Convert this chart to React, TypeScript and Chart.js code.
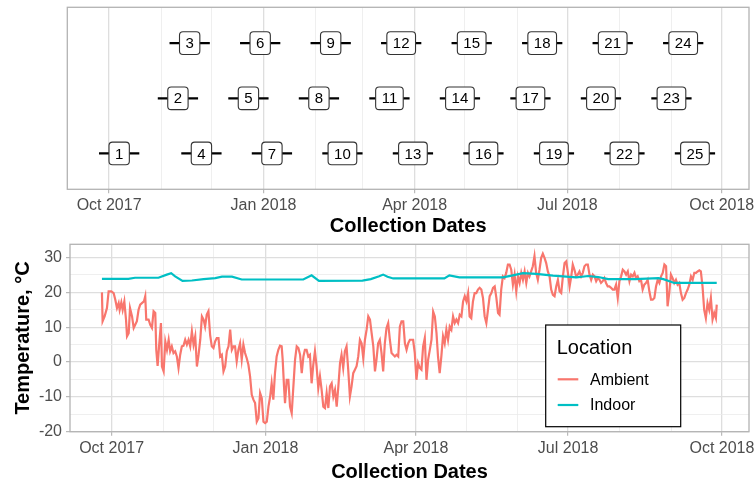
import React, { useEffect, useRef } from 'react';
import { Chart, registerables } from 'chart.js';

Chart.register(...registerables);

const FONT = '"Liberation Sans", Arial, Helvetica, sans-serif';
Chart.defaults.font.family = FONT;

// ---------- data ----------
const ORIGIN = Date.UTC(2017, 9, 1); // day 0 = 2017-10-01
const dayOf = (s: string) => {
  const [y, m, d] = s.split('-').map(Number);
  return (Date.UTC(y, m - 1, d) - ORIGIN) / 86400000;
};

const majorTickDates = ['2017-10-01', '2018-01-01', '2018-04-01', '2018-07-01', '2018-10-01'];
const majorTickLabels = ['Oct 2017', 'Jan 2018', 'Apr 2018', 'Jul 2018', 'Oct 2018'];
const minorTickDates = ['2017-11-01', '2017-12-01', '2018-02-01', '2018-03-01', '2018-05-01', '2018-06-01', '2018-08-01', '2018-09-01'];

const collectionLabels = ['1', '2', '3', '4', '5', '6', '7', '8', '9', '10', '11', '12', '13', '14', '15', '16', '17', '18', '19', '20', '21', '22', '23', '24', '25'];
const collectionDates = [
  '2017-10-07', '2017-11-11', '2017-11-18', '2017-11-25', '2017-12-23', '2017-12-30', '2018-01-06',
  '2018-02-03', '2018-02-10', '2018-02-17', '2018-03-17', '2018-03-24', '2018-03-31', '2018-04-28',
  '2018-05-05', '2018-05-12', '2018-06-09', '2018-06-16', '2018-06-23', '2018-07-21', '2018-07-28',
  '2018-08-04', '2018-09-01', '2018-09-08', '2018-09-15',
];
const collectionRows = [1, 2, 3, 1, 2, 3, 1, 2, 3, 1, 2, 3, 1, 2, 3, 1, 2, 3, 1, 2, 3, 1, 2, 3, 1];
const collectionHalfSpanDays = [12, 12, 12, 12, 12, 12, 12, 12, 12, 12, 12, 12, 12, 12, 12, 12, 12, 12, 12, 12, 12, 12, 12, 12, 12];

// days since 2017-10-01
const ambientDays = [
  -5.8, -5.4, -4.2, -2.8, -1.8, -0.2, 1.2, 2.2, 3.2, 4.2,
  4.8, 5.8, 6.6, 7.6, 8.6, 9.2, 10.2, 11.0, 12.2, 13.2,
  14.1, 15.1, 16.1, 17.1, 18.1, 19.3, 20.1, 20.7, 22.1, 23.1,
  24.1, 25.1, 26.1, 26.7, 27.5, 28.5, 29.5, 30.1, 31.1, 32.1,
  33.1, 34.1, 35, 36, 37, 38, 39, 40, 41, 42,
  43, 44, 45, 46, 47, 48, 49, 50, 51, 52,
  53, 54, 55, 55.9, 56.9, 57.9, 58.9, 59.9, 60.9, 61.9,
  62.9, 63.9, 64.9, 65.9, 66.9, 67.9, 68.9, 69.9, 70.9, 71.9,
  72.9, 73.8, 74.8, 75.8, 76.8, 77.8, 78.8, 79.8, 80.8, 81.8,
  82.8, 83.8, 84.8, 85.8, 86.8, 87.8, 88.8, 89.8, 90.8, 91.8,
  92.8, 93.8, 94.8, 95.7, 96.7, 97.7, 98.7, 99.7, 100.7, 101.7,
  102.3, 103.1, 103.7, 104.7, 105.7, 106.7, 107.7, 108.7, 109.7, 110.7,
  111.7, 112.7, 113.7, 114.7, 115.6, 116.6, 117.6, 118.6, 119.6, 120.6,
  121.6, 122.6, 123.6, 124.6, 125.6, 126.6, 127.6, 128.6, 129.6, 130.6,
  131.6, 132.6, 133.6, 134.6, 135.6, 136.6, 137.5, 138.5, 139.5, 140.5,
  141.5, 142.5, 143.5, 144.5, 145.5, 146.5, 147.5, 148.5, 149.5, 150.5,
  151.5, 152.5, 153.5, 154.5, 155.5, 156.5, 157.5, 158.4, 159.4, 160.4,
  161.4, 162.4, 163.4, 164.4, 165.4, 166.4, 167.4, 168.4, 169.4, 170.4,
  171.4, 172.4, 173.4, 174.4, 175.4, 176.4, 177.4, 178.4, 179.3, 180.3,
  181.3, 182.3, 183.3, 184.3, 185.3, 186.3, 187.3, 188.3, 189.3, 190.3,
  191.3, 192.3, 193.3, 194.3, 195.2, 196.2, 197.2, 198.2, 199.2, 200.2,
  201.2, 202.2, 203.2, 204.2, 205.2, 206.2, 207.2, 208.2, 209.2, 210.2,
  211.2, 212.2, 213.2, 214.1, 215.1, 216.1, 217.1, 218.1, 219.1, 220.1,
  221.1, 222.1, 223.1, 224.1, 225.1, 226.1, 227.1, 228.1, 229.1, 230.1,
  231.1, 232, 233, 234, 235, 236, 237, 238, 239, 240,
  241, 242, 243, 244, 245, 246, 247, 248, 249, 249.9,
  250.9, 251.9, 252.9, 253.9, 254.9, 255.9, 256.9, 257.9, 258.9, 259.9,
  260.9, 261.9, 262.9, 263.9, 264.9, 265.9, 266.9, 267.9, 268.9, 269.9,
  270.9, 271.9, 272.9, 273.9, 274.9, 275.8, 276.8, 277.8, 278.8, 279.8,
  280.8, 281.8, 282.8, 283.8, 284.8, 285.8, 286.8, 287.8, 288.8, 289.8,
  290.8, 291.8, 292.7, 293.7, 294.7, 295.7, 296.7, 297.7, 298.7, 299.7,
  300.7, 301.7, 302.7, 303.7, 304.7, 305.7, 306.7, 307.7, 308.7, 309.7,
  310.7, 311.7, 312.7, 313.6, 314.6, 315.6, 316.6, 317.6, 318.6, 319.6,
  320.6, 321.6, 322.6, 323.6, 324.6, 325.6, 326.6, 327.6, 328.6, 329.6,
  330.6, 331.6, 332.5, 333.5, 334.5, 335.5, 336.5, 337.5, 338.5, 339.5,
  340.5, 341.5, 342.5, 343.5, 344.5, 345.5, 346.5, 347.5, 348.5, 349.5,
  350.5, 351.5, 352.4, 353.4, 354.4, 355.4, 356.4, 357.4, 358.4, 359.4,
  360.4, 361.4, 361.9,
];
const ambientTemps = [
  20.0, 11.7, 13.1, 15.5, 20.3, 20.3, 19.8, 17.9, 15.5, 16.9,
  15.0, 17.1, 15.0, 17.4, 12.2, 7.4, 8.3, 15.5, 13.1, 9.8,
  10.7, 11.7, 15.0, 16.5, 16.9, 17.4, 18.9, 12.2, 12.2, 10.7,
  9.8, 14.6, 14.1, 3.5, -1.1, 5.4, 11.2, -1.3, -2.7, 5.9,
  3.5, 6.4, 3.1, 4.5, 2.6, 3.1, 1.6, -1.7, 2.1, 4.5,
  4.7, 6.4, 5.0, 6.4, 4.5, 8.8, 5.0, 7.4, -1.3, 2.1,
  6.4, 13.1, 12.2, 10.2, 13.6, 14.6, 7.8, 4.5, 4.0, 5.9,
  6.9, 6.9, 1.6, 2.1, -2.7, -1.3, 3.1, 4.5, 9.3, 3.5,
  4.5, 4.5, 0.2, 3.5, 5.4, 0.7, 5.0, 2.6, 1.1, -0.8,
  -4.1, -9.4, -10.8, -11.8, -17.1, -16.1, -8.9, -10.4, -17.1, -17.5,
  -17.1, -12.8, -9.9, -6.1, -10.8, -3.2, 1.6, 3.5, 4.7, 4.5,
  0.7, -7.0, -11.8, -5.1, -5.1, -12.8, -14.7, -7.0, 0.7, 4.5,
  4.0, 2.1, -3.2, 1.6, 3.5, 3.5, 1.6, 2.1, -6.1, -0.8,
  3.1, -1.3, -7.5, -4.1, -8.0, -12.8, -13.2, -8.9, -13.2, -7.0,
  -6.1, -9.9, -8.0, -12.8, -7.0, -0.3, 2.1, -1.7, 3.1, 4.5,
  -2.2, -9.9, -7.0, -3.2, -2.2, -1.2, 1.6, 6.4, 5.4, 1.1,
  6.4, 9.3, 13.1, 12.2, 8.3, 4.5, -2.7, 0.7, 5.4, 6.4,
  2.6, -2.7, 5.4, 9.8, 11.2, 6.4, 2.6, 2.1, 1.6, 2.1,
  1.6, 10.2, 11.7, 11.7, 5.4, 3.5, 5.4, 6.4, 6.4, 6.4,
  2.6, -5.1, -0.3, -1.7, -2.2, 4.5, 6.9, -5.1, 0.7, 3.5,
  6.4, 14.5, 13.1, 8.3, 1.6, -3.2, 1.6, 7.4, 5.4, 9.3,
  6.4, 10.2, 9.3, 13.1, 11.2, 12.2, 11.2, 13.6, 13.1, 17.4,
  18.9, 17.4, 19.8, 13.1, 12.6, 17.4, 19.8, 19.8, 20.8, 21.3,
  20.8, 18.4, 13.1, 11.2, 15.0, 18.9, 19.8, 21.3, 21.7, 18.4,
  14.1, 13.6, 20.8, 24.6, 24.1, 25.6, 28.0, 28.0, 26.5, 22.2,
  25.1, 20.3, 24.6, 22.7, 25.6, 23.6, 26.0, 22.7, 25.6, 24.6,
  26.0, 27.5, 30.4, 25.6, 23.6, 26.5, 29.9, 31.1, 29.9, 28.4,
  26.0, 24.6, 20.8, 19.3, 18.9, 21.7, 23.6, 20.3, 19.8, 24.6,
  28.4, 28.9, 25.6, 21.7, 24.6, 28.0, 26.5, 24.6, 25.1, 26.0,
  24.6, 25.6, 27.5, 28.0, 28.0, 25.1, 23.6, 25.1, 24.6, 23.2,
  24.1, 23.6, 22.7, 23.2, 24.1, 22.7, 21.7, 21.7, 21.3, 20.8,
  20.8, 22.2, 18.4, 23.2, 24.6, 26.5, 26.0, 25.1, 26.0, 23.2,
  25.1, 24.6, 25.6, 24.1, 24.6, 23.2, 23.6, 20.8, 22.2, 22.7,
  23.6, 20.3, 17.9, 17.9, 18.4, 21.7, 23.6, 22.7, 24.6, 25.6,
  28.0, 27.5, 16.0, 19.8, 25.1, 24.1, 22.7, 23.6, 22.2, 22.7,
  19.8, 17.9, 18.4, 19.8, 20.8, 22.2, 24.6, 23.6, 25.6, 25.6,
  26.0, 26.3, 26.0, 21.7, 15.0, 12.6, 16.9, 15.0, 18.4, 12.2,
  14.1, 12.6, 16.5,
];

const indoorDays = [
  -5.8, 10, 14, 28, 33, 35.6, 38, 42.4, 48, 55,
  62, 66, 72, 77.8, 114.6, 119.6, 124, 150, 155, 160,
  162.4, 165, 168.4, 199, 202, 208, 234, 240, 246, 254,
  264, 278, 285, 291, 297, 313, 327, 330, 336.5, 361.9,
];
const indoorTemps = [
  23.9, 23.9, 24.2, 24.2, 25.1, 25.5, 24.6, 23.3, 23.4, 23.8,
  24.1, 24.5, 24.5, 23.7, 23.7, 24.9, 23.3, 23.4, 23.8, 24.6,
  25.1, 24.5, 24.0, 24.0, 24.9, 24.3, 24.3, 24.9, 25.5, 25.3,
  24.8, 24.3, 24.7, 24.4, 23.8, 23.8, 24.1, 23.8, 22.7, 22.7,
];

const seriesNames = ['Ambient', 'Indoor'];
const seriesColors = ['#F8766D', '#00BFC4'];

const yTickValues = [-20, -15, -10, -5, 0, 5, 10, 15, 20, 25, 30];
const yLabelledValues = [-20, -10, 0, 10, 20, 30];

// ---------- layout / helpers ----------
const X_MIN = -24.9;
const X_MAX = 381.2;
const majorDays = majorTickDates.map(dayOf);
const allTickDays = [...majorTickDates, ...minorTickDates].map(dayOf).sort((a, b) => a - b);
const isMajor = (v: number) => majorDays.some((m) => Math.abs(m - v) < 0.01);

const GRID_MAJOR = '#DEDEDE';
const GRID_MINOR = '#EBEBEB';
const BORDER = '#B3B3B3';

function xScaleOptions(height: number) {
  return {
    type: 'linear',
    min: X_MIN,
    max: X_MAX,
    afterBuildTicks: (s: any) => {
      s.ticks = allTickDays.map((v) => ({ value: v }));
    },
    afterFit: (s: any) => {
      s.height = height;
      s.paddingLeft = 0;
      s.paddingRight = 0;
    },
    ticks: {
      autoSkip: false,
      maxRotation: 0,
      minRotation: 0,
      padding: 3,
      color: '#4D4D4D',
      font: { family: FONT, size: 16 },
      callback: (v: number) => {
        const i = majorDays.findIndex((m) => Math.abs(m - v) < 0.01);
        return i >= 0 ? majorTickLabels[i] : '';
      },
    },
    grid: {
      color: (c: any) => (c.tick && isMajor(c.tick.value) ? GRID_MAJOR : GRID_MINOR),
      lineWidth: (c: any) => (c.tick && isMajor(c.tick.value) ? 1.3 : 0.8),
      tickColor: (c: any) => (c.tick && isMajor(c.tick.value) ? BORDER : 'rgba(0,0,0,0)'),
      tickWidth: 1.1,
      tickLength: 4,
      drawTicks: true,
    },
    border: { display: false },
    title: {
      display: true,
      text: 'Collection Dates',
      color: '#000000',
      font: { family: FONT, size: 20, weight: 'bold', lineHeight: 1 },
      padding: 0,
    },
  };
}

const panelBorderPlugin = {
  id: 'panelBorder',
  afterDatasetsDraw(chart: any) {
    const { ctx, chartArea: a } = chart;
    ctx.save();
    ctx.strokeStyle = BORDER;
    ctx.lineWidth = 1.3;
    ctx.strokeRect(a.left, a.top, a.right - a.left, a.bottom - a.top);
    ctx.restore();
  },
};

function roundRectPath(ctx: CanvasRenderingContext2D, x: number, y: number, w: number, h: number, r: number) {
  ctx.beginPath();
  ctx.moveTo(x + r, y);
  ctx.lineTo(x + w - r, y);
  ctx.arcTo(x + w, y, x + w, y + r, r);
  ctx.lineTo(x + w, y + h - r);
  ctx.arcTo(x + w, y + h, x + w - r, y + h, r);
  ctx.lineTo(x + r, y + h);
  ctx.arcTo(x, y + h, x, y + h - r, r);
  ctx.lineTo(x, y + r);
  ctx.arcTo(x, y, x + r, y, r);
  ctx.closePath();
}

const collectionLabelPlugin = {
  id: 'collectionLabels',
  afterDatasetsDraw(chart: any) {
    const { ctx } = chart;
    const xs = chart.scales.x;
    const ys = chart.scales.y;
    ctx.save();
    ctx.font = `15px ${FONT}`;
    ctx.textAlign = 'center';
    ctx.textBaseline = 'middle';
    collectionLabels.forEach((lab, i) => {
      const cx = xs.getPixelForValue(dayOf(collectionDates[i]));
      const cy = ys.getPixelForValue(collectionRows[i]);
      const w = ctx.measureText(lab).width + 12;
      const h = 22.7;
      roundRectPath(ctx, cx - w / 2, cy - h / 2, w, h, 3.5);
      ctx.fillStyle = '#FFFFFF';
      ctx.fill();
      ctx.strokeStyle = '#333333';
      ctx.lineWidth = 1.1;
      ctx.stroke();
      ctx.fillStyle = '#000000';
      ctx.fillText(lab, cx, cy + 1);
    });
    ctx.restore();
  },
};

const legendPlugin = {
  id: 'insideLegend',
  afterDatasetsDraw(chart: any) {
    const { ctx, chartArea: a } = chart;
    const w = 135;
    const h = 101.7;
    const left = a.right - 68.3 - w;
    const top = a.bottom - 5 - h;
    ctx.save();
    ctx.fillStyle = '#FFFFFF';
    ctx.fillRect(left, top, w, h);
    ctx.strokeStyle = '#000000';
    ctx.lineWidth = 1.2;
    ctx.strokeRect(left, top, w, h);
    ctx.fillStyle = '#000000';
    ctx.textAlign = 'left';
    ctx.textBaseline = 'middle';
    ctx.font = `20px ${FONT}`;
    ctx.fillText('Location', left + 11, top + 23.3);
    ctx.font = `16px ${FONT}`;
    const rowsY = [54.3, 80];
    seriesNames.forEach((name, i) => {
      const y = top + rowsY[i];
      ctx.strokeStyle = seriesColors[i];
      ctx.lineWidth = 2.2;
      ctx.beginPath();
      ctx.moveTo(left + 12, y);
      ctx.lineTo(left + 32.6, y);
      ctx.stroke();
      ctx.fillStyle = '#000000';
      ctx.fillText(name, left + 44.3, y + 1);
    });
    ctx.restore();
  },
};

function buildTopConfig(): any {
  const whiskers: any[] = [];
  collectionDates.forEach((s, i) => {
    const d = dayOf(s);
    whiskers.push({ x: d - collectionHalfSpanDays[i], y: collectionRows[i] });
    whiskers.push({ x: d + collectionHalfSpanDays[i], y: collectionRows[i] });
    whiskers.push({ x: d, y: null });
  });
  return {
    type: 'line',
    data: {
      datasets: [
        {
          data: whiskers,
          borderColor: '#000000',
          borderWidth: 2.2,
          pointRadius: 0,
          spanGaps: false,
          tension: 0,
        },
      ],
    },
    options: {
      animation: false,
      responsive: false,
      maintainAspectRatio: false,
      events: [],
      layout: { autoPadding: false, padding: { top: 7.3, right: 6, bottom: 0, left: 67.3 } },
      plugins: { legend: { display: false }, tooltip: { enabled: false } },
      scales: {
        x: xScaleOptions(236 - 189.3),
        y: { type: 'linear', min: 0.35, max: 3.65, display: false },
      },
    },
    plugins: [panelBorderPlugin, collectionLabelPlugin],
  };
}

function buildBottomConfig(): any {
  const yIsMajor = (v: number) => yLabelledValues.includes(v);
  return {
    type: 'line',
    data: {
      datasets: [
        {
          label: seriesNames[1],
          data: indoorDays.map((d, i) => ({ x: d, y: indoorTemps[i] })),
          borderColor: seriesColors[1],
          borderWidth: 2.2,
          pointRadius: 0,
          tension: 0,
        },
        {
          label: seriesNames[0],
          data: ambientDays.map((d, i) => ({ x: d, y: ambientTemps[i] })),
          borderColor: seriesColors[0],
          borderWidth: 2.2,
          pointRadius: 0,
          tension: 0,
        },
      ],
    },
    options: {
      animation: false,
      responsive: false,
      maintainAspectRatio: false,
      events: [],
      layout: { autoPadding: false, padding: { top: 8.3, right: 6, bottom: 0, left: 0 } },
      plugins: { legend: { display: false }, tooltip: { enabled: false } },
      scales: {
        x: xScaleOptions(246 - 195.7),
        y: {
          type: 'linear',
          min: -20,
          max: 33.8,
          afterBuildTicks: (s: any) => {
            s.ticks = yTickValues.map((v) => ({ value: v }));
          },
          afterFit: (s: any) => {
            s.width = 70;
            s.paddingTop = 0;
            s.paddingBottom = 0;
          },
          ticks: {
            autoSkip: false,
            padding: 4,
            color: '#4D4D4D',
            font: { family: FONT, size: 16 },
            callback: (v: number) => (yIsMajor(v) ? String(v) : ''),
          },
          grid: {
            color: (c: any) => (c.tick && yIsMajor(c.tick.value) ? GRID_MAJOR : GRID_MINOR),
            lineWidth: (c: any) => (c.tick && yIsMajor(c.tick.value) ? 1.3 : 0.8),
            tickColor: (c: any) => (c.tick && yIsMajor(c.tick.value) ? BORDER : 'rgba(0,0,0,0)'),
            tickWidth: 1.1,
            tickLength: 4,
            drawTicks: true,
          },
          border: { display: false },
          title: {
            display: true,
            text: 'Temperature, °C',
            color: '#000000',
            font: { family: FONT, size: 20, weight: 'bold', lineHeight: 1 },
            padding: { top: 13, bottom: 0 },
          },
        },
      },
    },
    plugins: [panelBorderPlugin, legendPlugin],
  };
}

export default function App() {
  const topRef = useRef<HTMLCanvasElement>(null);
  const bottomRef = useRef<HTMLCanvasElement>(null);

  useEffect(() => {
    const top = new Chart(topRef.current as HTMLCanvasElement, buildTopConfig());
    const bottom = new Chart(bottomRef.current as HTMLCanvasElement, buildBottomConfig());
    return () => {
      top.destroy();
      bottom.destroy();
    };
  }, []);

  return (
    <div style={{ position: 'fixed', left: 0, top: 0, width: 755, height: 482, background: '#ffffff' }}>
      <canvas
        ref={topRef}
        width={755}
        height={236}
        style={{ position: 'absolute', left: 0, top: 0, width: 755, height: 236 }}
      />
      <canvas
        ref={bottomRef}
        width={755}
        height={246}
        style={{ position: 'absolute', left: 0, top: 236, width: 755, height: 246 }}
      />
    </div>
  );
}
